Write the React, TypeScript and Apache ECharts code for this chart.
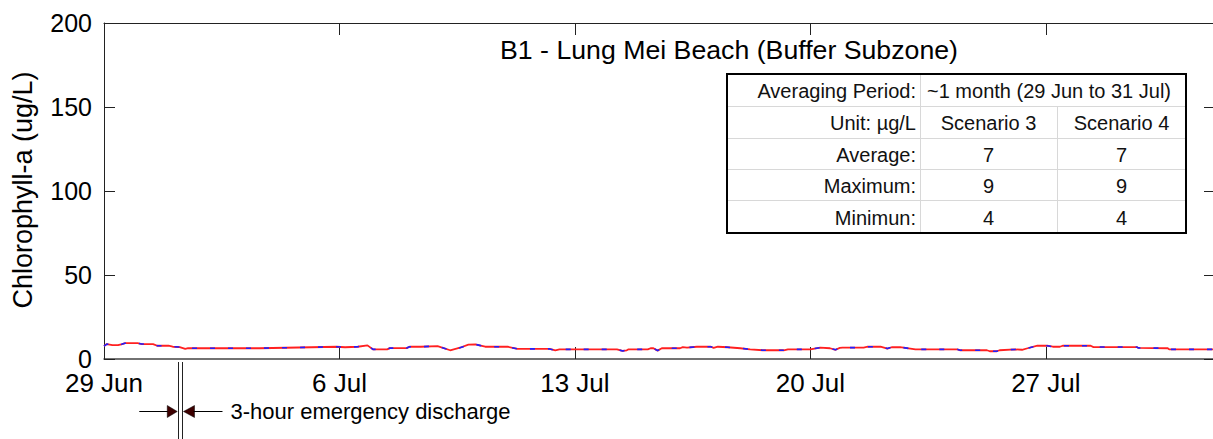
import React, { useEffect, useRef } from "react";
import * as echarts from "echarts";

// hours since 29 Jun 00:00
const hours = [0, 2, 6, 10, 13, 15, 24, 27, 35, 38, 46, 49, 54, 58, 60, 111, 148, 166, 172, 181, 188, 192, 202, 204, 216, 218, 226, 238, 247, 254, 260, 265, 268, 272, 288, 295, 318, 322, 325, 340, 366, 370, 373, 374, 388, 390, 392, 395, 398, 411, 413, 416, 423, 433, 435, 438, 445, 454, 461, 470, 485, 488, 504, 507, 511, 518, 522, 525, 527, 542, 545, 554, 559, 562, 568, 579, 609, 611, 630, 632, 637, 639, 650, 655, 659, 666, 673, 677, 682, 684, 704, 706, 737, 738, 759, 760, 792];
const scenario3 = [7.7, 8.9, 8.2, 8.2, 8.9, 9.4, 9.4, 8.9, 8.9, 7.9, 7.9, 7.3, 7.1, 6.0, 6.4, 6.4, 7.0, 7.3, 7.0, 7.3, 8.1, 5.7, 5.7, 6.5, 6.5, 7.3, 7.3, 7.7, 5.2, 6.7, 8.5, 8.7, 8.1, 7.3, 7.3, 6.0, 6.0, 5.2, 5.7, 5.7, 5.7, 4.8, 5.2, 5.7, 5.7, 6.4, 6.4, 5.0, 6.4, 6.4, 7.1, 6.8, 7.3, 7.3, 6.6, 7.3, 7.0, 6.4, 5.7, 5.2, 5.2, 5.7, 5.7, 6.2, 6.8, 6.4, 5.5, 6.6, 6.8, 6.8, 7.3, 7.3, 6.2, 7.0, 7.1, 5.7, 5.7, 5.2, 5.2, 4.6, 4.6, 5.2, 5.7, 5.5, 6.4, 7.9, 7.9, 7.3, 7.3, 7.9, 7.9, 7.1, 7.1, 6.6, 6.4, 5.7, 5.7];
const scenario4 = [7.7, 8.9, 8.2, 8.2, 8.9, 9.4, 9.4, 8.9, 8.9, 7.9, 7.9, 7.3, 7.1, 6.0, 6.4, 6.4, 7.0, 7.3, 7.0, 7.3, 8.1, 5.7, 5.7, 6.5, 6.5, 7.3, 7.3, 7.7, 5.2, 6.7, 8.5, 8.7, 8.1, 7.3, 7.3, 6.0, 6.0, 5.2, 5.7, 5.7, 5.7, 4.8, 5.2, 5.7, 5.7, 6.4, 6.4, 5.0, 6.4, 6.4, 7.1, 6.8, 7.3, 7.3, 6.6, 7.3, 7.0, 6.4, 5.7, 5.2, 5.2, 5.7, 5.7, 6.2, 6.8, 6.4, 5.5, 6.6, 6.8, 6.8, 7.3, 7.3, 6.2, 7.0, 7.1, 5.7, 5.7, 5.2, 5.2, 4.6, 4.6, 5.2, 5.7, 5.5, 6.4, 7.9, 7.9, 7.3, 7.3, 7.9, 7.9, 7.1, 7.1, 6.6, 6.4, 5.7, 5.7];

const xTickLabels = ["29 Jun", "6 Jul", "13 Jul", "20 Jul", "27 Jul"];
const xTickStep = 168; // one week in hours
const xMax = 792;
const yMax = 200;
const yStep = 50;

const dischargeHours = [53, 56];

const titleText = "B1 - Lung Mei Beach (Buffer Subzone)";
const yName = "Chlorophyll-a (ug/L)";
const dischargeText = "3-hour emergency discharge";

const tableRowLabels = ["Averaging Period:", "Unit: µg/L", "Average:", "Maximum:", "Minimun:"];
const periodText = "~1 month (29 Jun to 31 Jul)";
const scenarioHeaders = ["Scenario 3", "Scenario 4"];
const scenario3Stats = ["7", "9", "4"];
const scenario4Stats = ["7", "9", "4"];

const FONT = '"Liberation Sans", Arial, sans-serif';

export default function App() {
  const ref = useRef<HTMLDivElement>(null);

  useEffect(() => {
    if (!ref.current) return;
    const chart = echarts.init(ref.current, null, { renderer: "svg" });
    const toPairs = (vals: number[]) => hours.map((h, i) => [h, vals[i]]);

    const option: any = {
      animation: false,
      backgroundColor: "#fff",
      grid: { left: 104, top: 23, width: 1110, height: 336, containLabel: false, outerBoundsMode: "none" },
      xAxis: [
        {
          type: "value", min: 0, max: xMax, interval: xTickStep, position: "bottom",
          axisLine: { show: true, onZero: false, lineStyle: { color: "#444", width: 1.5 } },
          axisTick: { show: true, inside: true, length: 12, lineStyle: { color: "#222", width: 1 } },
          axisLabel: {
            show: true, margin: 14, fontSize: 26, lineHeight: 20, fontFamily: FONT, color: "#000",
            formatter: (v: number) => (v % xTickStep === 0 && xTickLabels[v / xTickStep]) || "",
          },
          splitLine: { show: false },
        },
        {
          type: "value", min: 0, max: xMax, interval: xTickStep, position: "top",
          axisLine: { show: true, onZero: false, lineStyle: { color: "#222", width: 1 } },
          axisTick: { show: true, inside: true, length: 12, lineStyle: { color: "#222", width: 1 } },
          axisLabel: { show: false },
          splitLine: { show: false },
        },
      ],
      yAxis: [
        {
          type: "value", min: 0, max: yMax, interval: yStep, position: "left",
          axisLine: { show: true, onZero: false, lineStyle: { color: "#222", width: 1 } },
          axisTick: { show: true, inside: true, length: 11, lineStyle: { color: "#222", width: 1 } },
          axisLabel: { show: true, margin: 12, fontSize: 25, lineHeight: 18, fontFamily: FONT, color: "#000" },
          splitLine: { show: false },
        },
        {
          type: "value", min: 0, max: yMax, interval: yStep, position: "right",
          axisLine: { show: true, onZero: false, lineStyle: { color: "#222", width: 1 } },
          axisTick: { show: true, inside: true, length: 10, lineStyle: { color: "#222", width: 1 } },
          axisLabel: { show: false },
          splitLine: { show: false },
        },
      ],
      series: [
        {
          name: "Scenario 3", type: "line", xAxisIndex: 0, yAxisIndex: 0, data: toPairs(scenario3),
          showSymbol: false, symbol: "none", lineStyle: { color: "#ff2020", width: 1.8 },
        },
        {
          name: "Scenario 4", type: "line", xAxisIndex: 0, yAxisIndex: 0, data: toPairs(scenario4),
          showSymbol: false, symbol: "none", lineStyle: { color: "#2020ff", width: 1.6, type: [5, 13] },
        },
      ],
    };
    chart.setOption(option);

    const xa = chart.convertToPixel({ xAxisIndex: 0 }, dischargeHours[0]) as number;
    const xb = chart.convertToPixel({ xAxisIndex: 0 }, dischargeHours[1]) as number;
    const yBase = chart.convertToPixel({ yAxisIndex: 0 }, 0) as number;
    const ay = yBase + 52.5;

    const graphics: any[] = [];
    graphics.push({
      type: "text", x: 729, y: 50,
      style: { text: titleText, fontSize: 26.7, fontFamily: FONT, fill: "#000", align: "center", verticalAlign: "middle" },
    });
    graphics.push({
      type: "text", x: 23, y: 190, rotation: Math.PI / 2,
      style: { text: yName, fontSize: 27, fontFamily: FONT, fill: "#000", align: "center", verticalAlign: "middle" },
    });
    [xa, xb].forEach((xx) => {
      graphics.push({
        type: "line", shape: { x1: Math.round(xx) + 0.5, y1: yBase + 3, x2: Math.round(xx) + 0.5, y2: 439 },
        style: { stroke: "#222", lineWidth: 1 },
      });
    });
    graphics.push({ type: "line", shape: { x1: xa - 39, y1: ay, x2: xa - 10, y2: ay }, style: { stroke: "#000", lineWidth: 1 } });
    graphics.push({
      type: "polygon", shape: { points: [[xa - 11, ay - 6], [xa - 1, ay], [xa - 11, ay + 6]] },
      style: { fill: "#3d0000", stroke: "#000", lineWidth: 0.5 },
    });
    graphics.push({
      type: "polygon", shape: { points: [[xb + 12, ay - 6], [xb + 1, ay], [xb + 12, ay + 6]] },
      style: { fill: "#3d0000", stroke: "#000", lineWidth: 0.5 },
    });
    graphics.push({ type: "line", shape: { x1: xb + 11, y1: ay, x2: xb + 40, y2: ay }, style: { stroke: "#000", lineWidth: 1 } });
    graphics.push({
      type: "text", x: xb + 48, y: ay,
      style: { text: dischargeText, fontSize: 22, fontFamily: FONT, fill: "#000", align: "left", verticalAlign: "middle" },
    });

    const colX = [727, 920, 1057, 1186];
    const rowY = [74, 106, 138, 169, 200, 233];
    const tableFont = 20;
    graphics.push({
      type: "rect", shape: { x: colX[0], y: rowY[0], width: colX[3] - colX[0], height: rowY[5] - rowY[0] },
      style: { fill: "#fff", stroke: "none" },
    });
    for (let r = 1; r < 5; r++) {
      graphics.push({
        type: "line", shape: { x1: colX[0], y1: rowY[r] + 0.5, x2: colX[3], y2: rowY[r] + 0.5 },
        style: { stroke: "#d8d8d8", lineWidth: 1 },
      });
    }
    graphics.push({
      type: "line", shape: { x1: colX[1] + 0.5, y1: rowY[0], x2: colX[1] + 0.5, y2: rowY[5] },
      style: { stroke: "#d8d8d8", lineWidth: 1 },
    });
    graphics.push({
      type: "line", shape: { x1: colX[2] + 0.5, y1: rowY[1], x2: colX[2] + 0.5, y2: rowY[5] },
      style: { stroke: "#d8d8d8", lineWidth: 1 },
    });
    graphics.push({
      type: "rect", shape: { x: colX[0], y: rowY[0], width: colX[3] - colX[0], height: rowY[5] - rowY[0] },
      style: { fill: "none", stroke: "#000", lineWidth: 2 },
    });
    const cellText = (text: string, x: number, r: number, align: string) => ({
      type: "text", x, y: (rowY[r] + rowY[r + 1]) / 2 + 1,
      style: { text, fontSize: tableFont, fontFamily: FONT, fill: "#111", align, verticalAlign: "middle" },
    });
    tableRowLabels.forEach((t, r) => graphics.push(cellText(t, colX[1] - 4, r, "right")));
    graphics.push(cellText(periodText, 1049, 0, "center"));
    const c1 = (colX[1] + colX[2]) / 2;
    const c2 = (colX[2] + colX[3]) / 2;
    graphics.push(cellText(scenarioHeaders[0], c1, 1, "center"));
    graphics.push(cellText(scenarioHeaders[1], c2, 1, "center"));
    scenario3Stats.forEach((t, i) => graphics.push(cellText(t, c1, i + 2, "center")));
    scenario4Stats.forEach((t, i) => graphics.push(cellText(t, c2, i + 2, "center")));

    chart.setOption({ graphic: graphics });

    return () => chart.dispose();
  }, []);

  return <div ref={ref} style={{ position: "fixed", left: 0, top: 0, width: 1213, height: 439 }} />;
}
